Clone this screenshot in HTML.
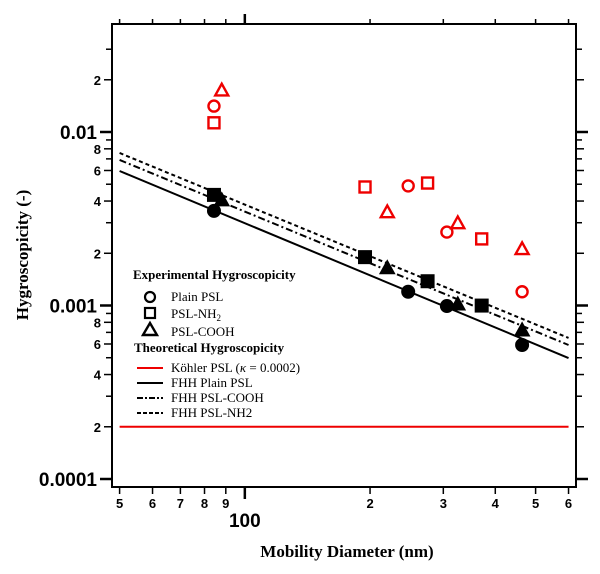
<!DOCTYPE html>
<html><head><meta charset="utf-8"><style>
body{margin:0;background:#fff;width:600px;height:574px;overflow:hidden}
svg{display:block}
.tl{font-family:"Liberation Sans",Arial,sans-serif;font-weight:bold;font-size:13px;fill:#000}
.big{font-size:19px}
.lg{font-family:"Liberation Serif",serif;font-size:13px;fill:#000}
.lgb{font-family:"Liberation Serif",serif;font-size:13px;font-weight:bold;fill:#000}
.ttl{font-family:"Liberation Serif",serif;font-size:17px;font-weight:bold;fill:#000}
</style></head><body>
<svg id="chart" width="600" height="574" xmlns="http://www.w3.org/2000/svg">
<g id="ticks"></g>
<g id="lines"></g>
<g id="marks"></g>
<rect x="112" y="24" width="464" height="463" fill="none" stroke="#000" stroke-width="2"/>
<text class="ttl" transform="translate(28,255) rotate(-90)" text-anchor="middle">Hygroscopicity (-)</text>
<text class="ttl" x="347" y="557" text-anchor="middle">Mobility Diameter (nm)</text>
<g>
<text class="lgb" x="133" y="279">Experimental Hygroscopicity</text>
<circle cx="150" cy="297" r="5" fill="none" stroke="#000" stroke-width="2.2"/>
<text class="lg" x="171" y="301">Plain PSL</text>
<rect x="145" y="308" width="10" height="10" fill="none" stroke="#000" stroke-width="2.2"/>
<text class="lg" x="171" y="318">PSL-NH<tspan font-size="9" dy="3">2</tspan></text>
<path d="M143,335 L150,323 L157,335 Z" fill="none" stroke="#000" stroke-width="2.4"/>
<text class="lg" x="171" y="336">PSL-COOH</text>
<text class="lgb" x="134" y="352">Theoretical Hygroscopicity</text>
<line x1="137" y1="368" x2="163" y2="368" stroke="#e00" stroke-width="2"/>
<text class="lg" x="171" y="372">Köhler PSL (<tspan font-style="italic">κ</tspan> = 0.0002)</text>
<line x1="137" y1="383" x2="163" y2="383" stroke="#000" stroke-width="2"/>
<text class="lg" x="171" y="387">FHH Plain PSL</text>
<line x1="137" y1="398" x2="163" y2="398" stroke="#000" stroke-width="2" stroke-dasharray="6,2,2,2"/>
<text class="lg" x="171" y="402">FHH PSL-COOH</text>
<line x1="137" y1="413" x2="163" y2="413" stroke="#000" stroke-width="2" stroke-dasharray="4,2"/>
<text class="lg" x="171" y="417">FHH PSL-NH2</text>
</g>
</svg>
<script>
// data arrays
const redDiam  = [84.3, 84.3, 88, 194.5, 247, 275, 220, 306, 325, 371, 464, 464];
const redVal   = [0.0141, 0.0113, 0.0174, 0.00482, 0.00489, 0.00508, 0.00346, 0.00265, 0.00299, 0.00242, 0.00212, 0.00120];
const redShape = ['c','s','t','s','c','s','t','c','t','s','t','c'];
const blkDiam  = [84.3, 88, 84.3, 194.5, 220, 247, 275, 306, 325, 371, 464, 464];
const blkVal   = [0.00434, 0.00406, 0.00351, 0.00190, 0.00165, 0.00120, 0.00138, 0.000993, 0.00102, 0.000999, 0.000723, 0.000592];
const blkShape = ['s','t','c','s','t','c','s','c','t','s','t','c'];
const lineDiam = [50, 600];
const fhhPlain = [0.00596, 0.000498];
const fhhCooh  = [0.00690, 0.000592];
const fhhNh2   = [0.00757, 0.000650];
const kohler   = [0.0002, 0.0002];
const xTickVals = [50,60,70,80,90,100,200,300,400,500,600];
const xTickLabels = ['5','6','7','8','9','100','2','3','4','5','6'];
const yTickVals = [0.0001,0.0002,0.0003,0.0004,0.0005,0.0006,0.0007,0.0008,0.0009,0.001,0.002,0.003,0.004,0.005,0.006,0.007,0.008,0.009,0.01,0.02,0.03];
const yTickLabels = ['0.0001','2','','4','','6','','8','','0.001','2','','4','','6','','8','','0.01','2',''];

const NS='http://www.w3.org/2000/svg';
const X = d => 119.6 + 416*Math.log10(d/50);
const Y = v => 132 - 173.5*Math.log10(v/0.01);
function mk(tag, attrs, parent){const e=document.createElementNS(NS,tag);for(const k in attrs)e.setAttribute(k,attrs[k]);parent.appendChild(e);return e;}
const T=document.getElementById('ticks'), L=document.getElementById('lines'), M=document.getElementById('marks');

xTickVals.forEach((v,i)=>{
  const x=X(v), major=(v===100);
  const b=mk('line',{x1:x,y1:487,x2:x,y2:major?499:494,stroke:'#000','stroke-width':major?2.5:1.5},T);
  
  
  const t=mk('line',{x1:x,y1:24,x2:x,y2:major?14:19,stroke:'#000','stroke-width':major?2.5:1.5},T);
  
  
  const lbl=mk('text',{x:x,y:major?527:508,'text-anchor':'middle',class:major?'tl big':'tl'},T);
  lbl.textContent=xTickLabels[i];
  
  
});
yTickVals.forEach((v,i)=>{
  const y=Y(v), lab=yTickLabels[i], dec=lab.indexOf('0.')===0;
  const len=dec?12:(lab?8:6);
  const l=mk('line',{x1:112-len,y1:y,x2:112,y2:y,stroke:'#000','stroke-width':dec?2.5:1.5},T);
  
  
  const r=mk('line',{x1:576,y1:y,x2:576+len,y2:y,stroke:'#000','stroke-width':dec?2.5:1.5},T);
  
  
  if(lab){
    const t=mk('text',{x:dec?97:101,y:y+(dec?7:5),'text-anchor':'end',class:dec?'tl big':'tl'},T);
    t.textContent=lab;
    
    
  }
});
function drawLine(vals,name,color,dash){
  const l=mk('line',{x1:X(lineDiam[0]),y1:Y(vals[0]),x2:X(lineDiam[1]),y2:Y(vals[1]),stroke:color,'stroke-width':2},L);
  if(dash)l.setAttribute('stroke-dasharray',dash);
  
  
}
drawLine(kohler,'kohler-line','#e00',null);
drawLine(fhhPlain,'fhh-plain-line','#000',null);
drawLine(fhhCooh,'fhh-cooh-line','#000','7,3,2,3');
drawLine(fhhNh2,'fhh-nh2-line','#000','4,3');
function marker(shape,cx,cy,filled,name){
  const st=filled?{fill:'#000',stroke:'#000','stroke-width':1}:{fill:'none',stroke:'#e00','stroke-width':2.4};
  let e;
  if(shape==='c') e=mk('circle',Object.assign({cx:cx,cy:cy,r:filled?6.5:5.5},st),M);
  else if(shape==='s'){const h=filled?6.5:5.5;e=mk('rect',Object.assign({x:cx-h,y:cy-h,width:2*h,height:2*h},st),M);}
  else {const h=filled?7.5:6.5;e=mk('path',Object.assign({d:`M${cx-h},${cy+h*0.8} L${cx},${cy-h} L${cx+h},${cy+h*0.8} Z`},st),M);}
  
  
}
redDiam.forEach((d,i)=>marker(redShape[i],X(d),Y(redVal[i]),false,'experimental-point'));
blkDiam.forEach((d,i)=>marker(blkShape[i],X(d),Y(blkVal[i]),true,'theoretical-point'));
</script>
</body></html>
